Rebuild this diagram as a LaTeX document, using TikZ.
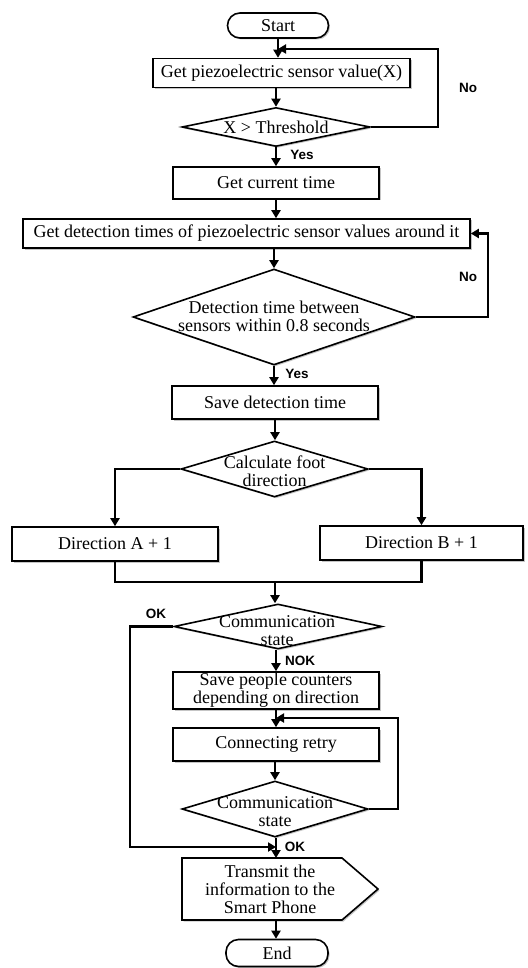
\documentclass[tikz,border=0pt]{standalone}
\usepackage{fontspec}
\setmainfont{Liberation Serif}
\newfontfamily\lblfont{Liberation Sans}
\usetikzlibrary{arrows.meta,shapes.geometric,shadows}
\begin{document}
\begin{tikzpicture}[x=1pt,y=-1pt,
  shad/.style={drop shadow={shadow xshift=1.5pt,shadow yshift=-1.5pt,fill=black!45,opacity=0.5}},
  box/.style={draw,line width=1.6pt,rectangle,inner sep=0pt,fill=white,shad,
    font=\fontsize{18}{18}\selectfont,align=center},
  term/.style={box,rounded corners=12.5pt},
  dia/.style={draw,line width=1.6pt,diamond,inner sep=0pt,fill=white,shad},
  txt/.style={inner sep=0pt,font=\fontsize{18}{18}\selectfont,align=center},
  lbl/.style={inner sep=0pt,font=\lblfont\bfseries\fontsize{13.5}{14}\selectfont},
  line/.style={line width=2.6pt},
  conn/.style={line width=2.6pt,-{Triangle[length=8pt,width=9pt]}}]
\useasboundingbox (0,0) rectangle (527,968);

% nodes
\node[term,minimum width=101,minimum height=25] (start) at (278,25.5) {Start};
\node[box,minimum width=257,minimum height=29] (b1) at (281.5,73) {Get piezoelectric sensor value(X)};
\node[dia,minimum width=188,minimum height=39] (d1) at (276,127) {};
\node[txt] (t1) at (276,127) {X > Threshold};
\node[box,minimum width=206,minimum height=32] (b2) at (276,183) {Get current time};
\node[box,minimum width=447,minimum height=29] (b3) at (246.5,233.5) {Get detection times of piezoelectric sensor values around it};
\node[dia,minimum width=282,minimum height=96] (d2) at (274,317) {};
\node[txt] (t2) at (274,316) {Detection time between\\sensors within 0.8 seconds};
\node[box,minimum width=206,minimum height=33] (b4) at (275,402.5) {Save detection time};
\node[dia,minimum width=187,minimum height=56] (d3) at (274.5,469) {};
\node[txt] (t3) at (274.5,471) {Calculate foot\\direction};
\node[box,minimum width=206,minimum height=34] (bA) at (115,544) {Direction A + 1};
\node[box,minimum width=203,minimum height=34] (bB) at (421.5,543) {Direction B + 1};
\node[dia,minimum width=208,minimum height=45] (d4) at (278,626.5) {};
\node[txt] (t4) at (277,631) {Communication\\state};
\node[box,minimum width=206,minimum height=37] (b5) at (276,690.5) {Save people counters\\depending on direction};
\node[box,minimum width=206,minimum height=33] (b6) at (276,744.5) {Connecting retry};
\node[dia,minimum width=186,minimum height=56] (d5) at (275,809) {};
\node[txt] (t5) at (275,812) {Communication\\state};
\draw[line width=1.6pt,fill=white,shad] (182,858) -- (342,858) -- (378,889) -- (342,920) -- (182,920) -- cycle;
\node[txt] (tx) at (270,889.5) {Transmit the\\information to the\\Smart Phone};
\node[term,minimum width=102,minimum height=27] (end) at (277,953) {End};

% coordinates
\coordinate (j1) at (278,49);
\coordinate (c1) at (438,49);
\coordinate (c2) at (488,233.5);
\coordinate (m) at (275,582);
\coordinate (c4) at (130,847);
\coordinate (j4) at (276,847);
\coordinate (c5) at (398,718);
\coordinate (j5) at (276,718);
\coordinate (txtop) at (276,858);
\coordinate (txbot) at (276,920);

% connectors
\draw[conn] (start.south) -- (start.south |- b1.north);
\draw[conn] (d1.east) -| (c1) -- (j1);
\draw[conn] (b1.south -| d1.north) -- (d1.north);
\draw[conn] (d1.south) -- (d1.south |- b2.north);
\draw[conn] (b2.south) -- (b2.south |- b3.north);
\draw[conn] (b3.south -| d2.north) -- (d2.north);
\draw[conn] (d2.east) -| (c2) -- (b3.east);
\draw[conn] (d2.south) -- (d2.south |- b4.north);
\draw[conn] (b4.south) -- (b4.south |- d3.north);
\draw[conn] (d3.west) -| (bA.north);
\draw[conn] (d3.east) -| (bB.north);
\draw[line] (bA.south) |- (m) -| (bB.south);
\draw[conn] (m) -- (m |- d4.north);
\draw[conn] (d4.west) -| (c4) -- (j4);
\draw[conn] (d4.south -| b5.north) -- (b5.north);
\draw[conn] (b5.south) -- (b5.south |- b6.north);
\draw[conn] (d5.east) -| (c5) -- (j5);
\draw[conn] (b6.south -| d5.north) -- (d5.north);
\draw[conn] (d5.south -| txtop) -- (txtop);
\draw[conn] (txbot) -- (txbot |- end.north);

% labels
\node[lbl] (lno1) at (468,88) {No};
\node[lbl] (lyes1) at (302,155) {Yes};
\node[lbl] (lno2) at (468,277) {No};
\node[lbl] (lyes2) at (297,374) {Yes};
\node[lbl] (lok1) at (156,614) {OK};
\node[lbl] (lnok) at (300,661) {NOK};
\node[lbl] (lok2) at (295,847) {OK};
\end{tikzpicture}
\end{document}
